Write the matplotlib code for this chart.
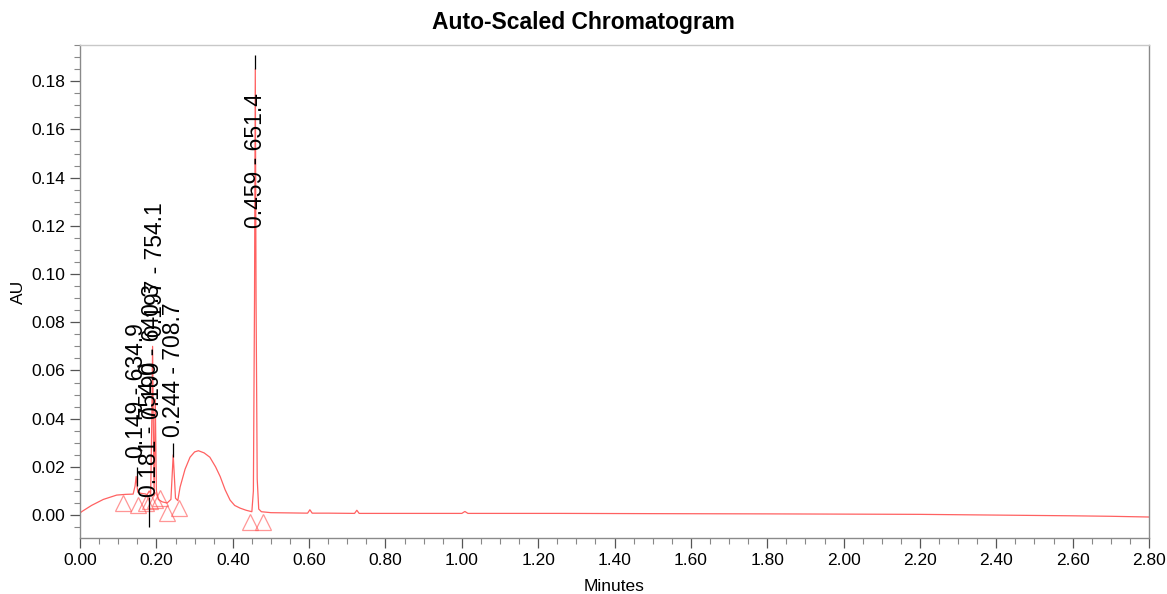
import numpy as np
import matplotlib
matplotlib.use('Agg')
import matplotlib.pyplot as plt
from matplotlib.ticker import MultipleLocator, FormatStrFormatter

plt.rcParams['font.family'] = ['Liberation Sans', 'DejaVu Sans']

# trace (minutes, AU)
trace_t = [0.000, 0.004, 0.030, 0.061, 0.096, 0.120, 0.139, 0.144, 0.147, 0.151,
           0.160, 0.170, 0.176, 0.181, 0.185, 0.188, 0.190, 0.192, 0.194, 0.197,
           0.200, 0.205, 0.215, 0.228, 0.238, 0.244, 0.250, 0.256, 0.262, 0.275,
           0.288, 0.300, 0.310, 0.325, 0.340, 0.355, 0.367, 0.380, 0.393, 0.405,
           0.419, 0.435, 0.450, 0.454, 0.457, 0.459, 0.461, 0.464, 0.468, 0.475,
           0.500, 0.550, 0.596, 0.602, 0.608, 0.650, 0.719, 0.725, 0.731, 0.800,
           0.900, 1.000, 1.008, 1.016, 1.100, 1.257, 1.500, 1.800, 2.000, 2.200,
           2.400, 2.600, 2.700, 2.800]
trace_au = [0.0008, 0.0014, 0.0040, 0.0065, 0.0083, 0.0086, 0.0087, 0.0120, 0.0160, 0.0095,
            0.0090, 0.0088, 0.0085, 0.0100, 0.0090, 0.0400, 0.0700, 0.0350, 0.0080, 0.0480,
            0.0100, 0.0065, 0.0055, 0.0050, 0.0065, 0.0250, 0.0070, 0.0060, 0.0116, 0.0190,
            0.0240, 0.0262, 0.0267, 0.0258, 0.0240, 0.0200, 0.0160, 0.0105, 0.0062, 0.0040,
            0.0029, 0.0020, 0.0014, 0.0100, 0.0900, 0.1850, 0.0900, 0.0150, 0.0025, 0.0014,
            0.0010, 0.0009, 0.0008, 0.0022, 0.0008, 0.0008, 0.0007, 0.0020, 0.0007, 0.0007,
            0.0007, 0.0007, 0.0015, 0.0007, 0.0007, 0.0007, 0.0006, 0.0005, 0.0004, 0.0003,
            0.0000, -0.0003, -0.0005, -0.0008]

# peak labels
peak_rt = [0.149, 0.181, 0.190, 0.197, 0.244, 0.459]
peak_text = ['0.149 - 634.9', '0.181 - 754.0', '0.190 - 640.3', '0.197 - 754.1',
             '0.244 - 708.7', '0.459 - 651.4']
label_au = [0.0235, 0.0075, 0.040, 0.074, 0.0325, 0.119]

# apex marker lines (rt, low, high)
apex_rt = [0.149, 0.181, 0.244, 0.459]
apex_lo = [0.012, -0.005, 0.024, 0.185]
apex_hi = [0.020, 0.0075, 0.030, 0.191]

# peak start / end triangles
tri_t = [0.113, 0.153, 0.173, 0.183, 0.196, 0.210, 0.227, 0.258, 0.445, 0.478]
tri_au = [0.0049, 0.0042, 0.0049, 0.0060, 0.0062, 0.0071, 0.0007, 0.0028, -0.0028, -0.0028]

fig = plt.figure(figsize=(11.67, 5.94), dpi=100)
ax = fig.add_axes([0.0686, 0.0943, 0.9160, 0.8299])

red = '#ff5050'
ax.plot(trace_t, trace_au, color=red, lw=0.9, alpha=0.9)
ax.plot(tri_t, tri_au, ls='none', marker='^', ms=11, mfc='none', mec=red,
        mew=0.9, alpha=0.6)
ax.vlines(apex_rt, apex_lo, apex_hi, color='black', lw=0.9)

for rt, txt, y in zip(peak_rt, peak_text, label_au):
    ax.text(rt, y, txt, rotation=90, ha='center', va='bottom', fontsize=16.5)

ax.set_xlim(0, 2.8)
ax.set_ylim(-0.0095, 0.195)
ax.xaxis.set_major_locator(MultipleLocator(0.2))
ax.xaxis.set_minor_locator(MultipleLocator(0.05))
ax.yaxis.set_major_locator(MultipleLocator(0.02))
ax.yaxis.set_minor_locator(MultipleLocator(0.005))
ax.xaxis.set_major_formatter(FormatStrFormatter('%.2f'))
ax.yaxis.set_major_formatter(FormatStrFormatter('%.2f'))

for s in ax.spines.values():
    s.set_color('#8a8a8a')
    s.set_linewidth(1.0)
ax.spines['top'].set_color('#c8c8c8')

ax.tick_params(axis='both', which='major', labelsize=12.5, color='#555555',
               direction='out', length=7, width=0.9)
ax.tick_params(axis='both', which='minor', color='#888888',
               direction='out', length=4, width=0.8)

ax.set_xlabel('Minutes', fontsize=12.5, labelpad=8)
ax.set_ylabel('AU', fontsize=12.5, labelpad=4)
fig.suptitle('Auto-Scaled Chromatogram', x=0.5, y=0.982, fontsize=16.5,
             fontweight='bold')

fig.savefig('out.png', dpi=100)
